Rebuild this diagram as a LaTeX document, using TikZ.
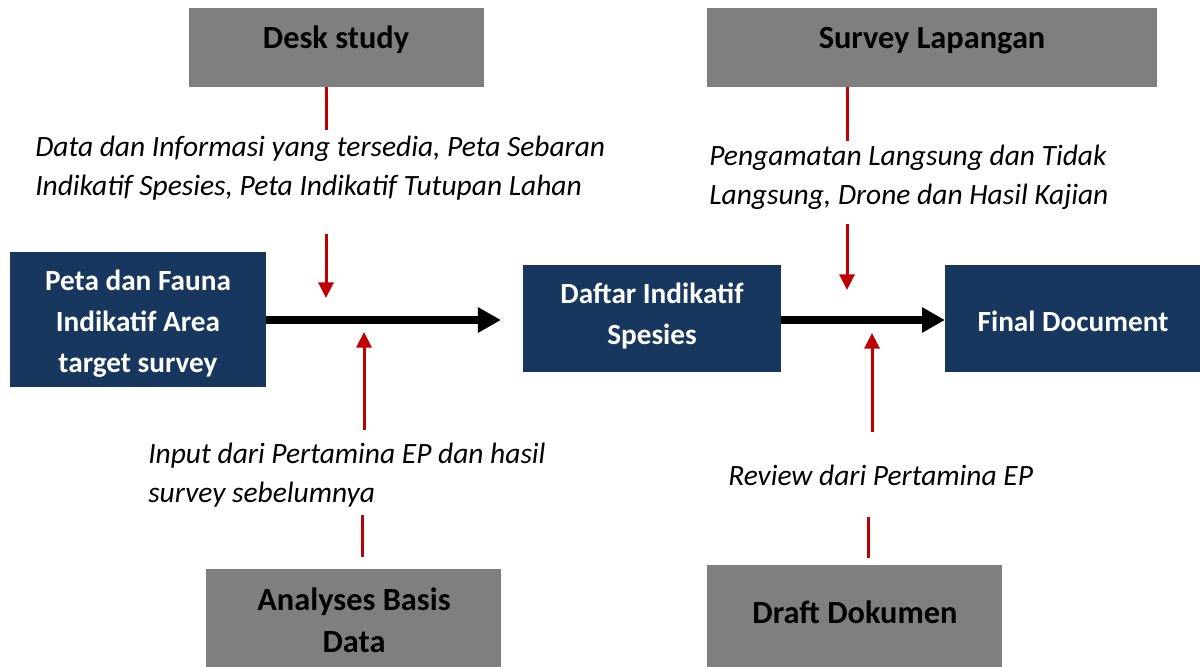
\documentclass[tikz,border=0pt]{standalone}
\usepackage{fontspec}
\setmainfont{Carlito}
\usetikzlibrary{arrows.meta}

\definecolor{boxblue}{HTML}{17375E}
\definecolor{boxgray}{HTML}{7F7F7F}
\definecolor{linkred}{HTML}{C00000}

\newcommand{\bluefont}{\fontsize{20.8pt}{29.2pt}\selectfont\bfseries}
\newcommand{\grayfont}{\fontsize{23pt}{29.9pt}\selectfont\bfseries}
\newcommand{\notefont}{\fontsize{20.95pt}{27.9pt}\selectfont\itshape}
\newcommand{\lines}[1]{\begin{tabular}[t]{@{}c@{}}#1\end{tabular}}
\newcommand{\llines}[1]{\begin{tabular}[t]{@{}l@{}}#1\end{tabular}}

\tikzset{
  box/.style={rectangle, draw=none, inner sep=0pt, outer sep=0pt, anchor=north west},
  bluebox/.style={box, fill=boxblue},
  graybox/.style={box, fill=boxgray},
  bluetext/.style={anchor=base, inner sep=0pt, text=white, font=\bluefont},
  graytext/.style={anchor=base, inner sep=0pt, text=black, font=\grayfont},
  notetext/.style={anchor=base west, inner sep=0pt, text=black, font=\notefont},
  mainarrow/.style={draw=black, line width=0.2cm, -{Triangle[length=0.575cm, width=0.6cm]}},
  redline/.style={draw=linkred, line width=0.075cm},
  redarrow/.style={redline, -{Triangle[length=0.39cm, width=0.375cm]}},
}

\begin{document}
\begin{tikzpicture}[x=0.025cm, y=-0.025cm]
\useasboundingbox (0,0) rectangle (1200,666);

% boxes
\node[bluebox, minimum width=6.4cm,  minimum height=3.375cm] (peta)   at (10,252)  {};
\node[bluebox, minimum width=6.45cm, minimum height=2.675cm] (daftar) at (523,265) {};
\node[bluebox, minimum width=6.375cm,minimum height=2.675cm] (final)  at (945,265) {};
\node[graybox, minimum width=7.375cm, minimum height=1.975cm] (desk)     at (189,8)   {};
\node[graybox, minimum width=11.25cm, minimum height=1.975cm] (survey)   at (707,8)   {};
\node[graybox, minimum width=7.375cm, minimum height=2.6cm]   (analyses) at (206,569) {};
\node[graybox, minimum width=7.375cm, minimum height=2.7cm]   (draft)    at (707,565) {};

% box labels
\node[bluetext] (petatext)   at (138,290)  {\lines{Peta dan Fauna\\Indikatif Area\\target survey}};
\node[bluetext] (daftartext) at (652,303)  {\lines{Daftar Indikatif\\Spesies}};
\node[bluetext] (finaltext)  at (1073,331) {Final Document};
\node[graytext] (desktext)     at (336,48)  {Desk study};
\node[graytext] (surveytext)   at (932,48)  {Survey Lapangan};
\node[graytext] (analysestext) at (354,610) {\lines{Analyses Basis\\Data}};
\node[graytext] (drafttext)    at (855,623) {Draft Dokumen};

% notes
\node[notetext] (notedesk)   at (35,156)  {\llines{Data dan Informasi yang tersedia, Peta Sebaran\\Indikatif Spesies, Peta Indikatif Tutupan Lahan}};
\node[notetext] (notesurvey) at (709,165) {\llines{Pengamatan Langsung dan Tidak\\Langsung, Drone dan Hasil Kajian}};
\node[notetext] (noteinput)  at (148,463) {\llines{Input dari Pertamina EP dan hasil\\survey sebelumnya}};
\node[notetext] (notereview) at (728,485) {Review dari Pertamina EP};

% main flow
\draw[mainarrow] (peta.east |- 0,320) -- ([xshift=-0.55cm]daftar.west |- 0,320);
\draw[mainarrow] (daftar.east |- 0,320) -- (final.west |- 0,320);

% red connector ends
\coordinate (deskend)   at (326,130);
\coordinate (deskin)    at (326,234);
\coordinate (deskout)   at (326,298);
\coordinate (surveyend) at (847,141);
\coordinate (surveyin)  at (847,224);
\coordinate (surveyout) at (847,290);
\coordinate (inputin)   at (364,430);
\coordinate (inputout)  at (364,332);
\coordinate (anatop)    at (362,515);
\coordinate (anabot)    at (362,557);
\coordinate (reviewin)  at (872,432);
\coordinate (reviewout) at (872,333);
\coordinate (drafttop)  at (868,517);
\coordinate (draftbot)  at (868,558);

% red connectors
\draw[redline]  (deskend |- desk.south) -- (deskend);
\draw[redarrow] (deskin) -- (deskout);
\draw[redline]  (surveyend |- survey.south) -- (surveyend);
\draw[redarrow] (surveyin) -- (surveyout);
\draw[redarrow] (inputin) -- (inputout);
\draw[redline]  (anatop) -- (anabot);
\draw[redarrow] (reviewin) -- (reviewout);
\draw[redline]  (drafttop) -- (draftbot);
\end{tikzpicture}
\end{document}
